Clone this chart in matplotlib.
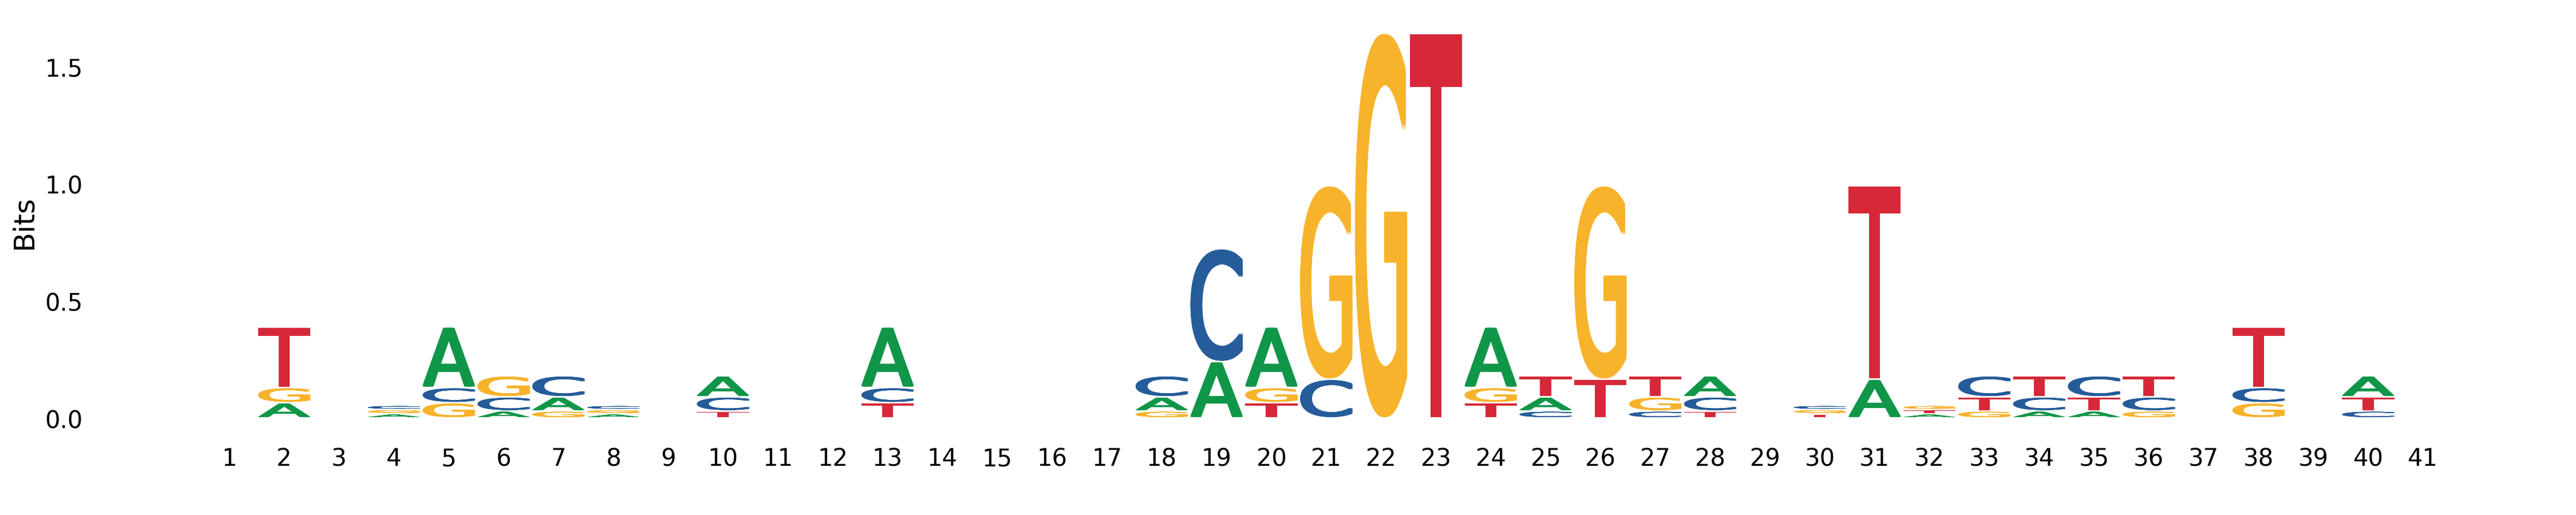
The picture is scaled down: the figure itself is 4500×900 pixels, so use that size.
import numpy as np
from matplotlib import pyplot as plt
from matplotlib.textpath import TextPath
from matplotlib.patches import PathPatch
from matplotlib.font_manager import FontProperties
from matplotlib.transforms import Affine2D

positions = np.arange(1, 42)

# letters of each column, bottom to top
stack_order = ["", "AGT", "", "AGC", "GCA", "ACG", "GAC", "AGC", "", "TCA",
               "", "", "TCA", "", "", "", "", "GAC", "AC", "TGA",
               "CG", "G", "T", "TGA", "CAT", "TG", "CGT", "TCA", "", "TGC",
               "AT", "ATG", "GTC", "ACT", "ATC", "GCT", "", "GCT", "", "CTA", ""]

# bits per letter per column
bits_A = [0, .065, 0, .018, .258, .03, .06, .018, 0, .09,
          0, 0, .258, 0, 0, 0, 0, .06, .24, .258,
          0, 0, 0, .258, .06, 0, 0, .09, 0, 0,
          .165, .018, 0, .03, .03, 0, 0, 0, 0, .09, 0]
bits_C = [0, 0, 0, .018, .065, .06, .09, .018, 0, .06,
          0, 0, .065, 0, 0, 0, 0, .09, .481, 0,
          .165, 0, 0, 0, .03, 0, .03, .06, 0, .018,
          0, 0, .09, .06, .09, .06, 0, .065, 0, .03, 0]
bits_G = [0, .065, 0, .018, .065, .09, .03, .018, 0, 0,
          0, 0, 0, 0, 0, 0, 0, .03, 0, .065,
          .824, 1.639, 0, .065, 0, .824, .06, 0, 0, .018,
          0, .018, .03, 0, 0, .03, 0, .065, 0, 0, 0]
bits_T = [0, .258, 0, 0, 0, 0, 0, 0, 0, .03,
          0, 0, .065, 0, 0, 0, 0, 0, 0, .065,
          0, 0, 1.639, .065, .09, .165, .09, .03, 0, .018,
          .824, .018, .06, .09, .06, .09, 0, .258, 0, .06, 0]

bits = {'A': bits_A, 'C': bits_C, 'G': bits_G, 'T': bits_T}
colors = {'A': '#109648', 'C': '#255C99', 'G': '#F7B32B', 'T': '#D62839'}

font = FontProperties(family='DejaVu Sans', weight='normal')
glyph_width = 0.95
bold_x = 0.055    # extra stroke thickness, x units
bold_y = 0.028    # extra stroke thickness, fraction of letter height
bottom_gap = 0.0075


def draw_letter(ax, letter, x, floor, ceiling, color):
    path = TextPath((0, 0), letter, size=1, prop=font)
    ext = path.get_extents()
    h = ceiling - floor - bottom_gap
    if h <= 0:
        return
    dy = bold_y * h
    w = glyph_width - bold_x
    hh = h - dy
    for ox in (0, bold_x / 2, bold_x):
        for oy in (0, dy / 2, dy):
            tr = (Affine2D().translate(-ext.x0, -ext.y0)
                  .scale(w / ext.width, hh / ext.height)
                  .translate(x - glyph_width / 2 + ox, floor + bottom_gap + oy))
            ax.add_patch(PathPatch(tr.transform_path(path), fc=color, lw=0))


fig = plt.figure(figsize=(15, 3), dpi=300)
ax = fig.add_axes([0.035844, 0.15022, 0.958, 0.83422])

for i, p in enumerate(positions):
    floor = 0.0
    for letter in stack_order[i]:
        h = bits[letter][i]
        draw_letter(ax, letter, p, floor, floor + h, colors[letter])
        floor += h

ax.set_xlim(-1.5, 43.5)
ax.set_ylim(-0.08, 1.75)
ax.set_xticks(positions)
ax.set_xticklabels([str(p) for p in positions])
ax.set_yticks([0, 0.5, 1.0, 1.5])
ax.set_yticklabels(['0.0', '0.5', '1.0', '1.5'])
ax.tick_params(axis='both', length=0, labelsize=10)
ax.tick_params(axis='x', pad=4)
ax.tick_params(axis='y', pad=4)
ax.set_ylabel('Bits', fontsize=12, labelpad=3)
for s in ax.spines.values():
    s.set_visible(False)

fig.savefig('out.png', dpi=300)
